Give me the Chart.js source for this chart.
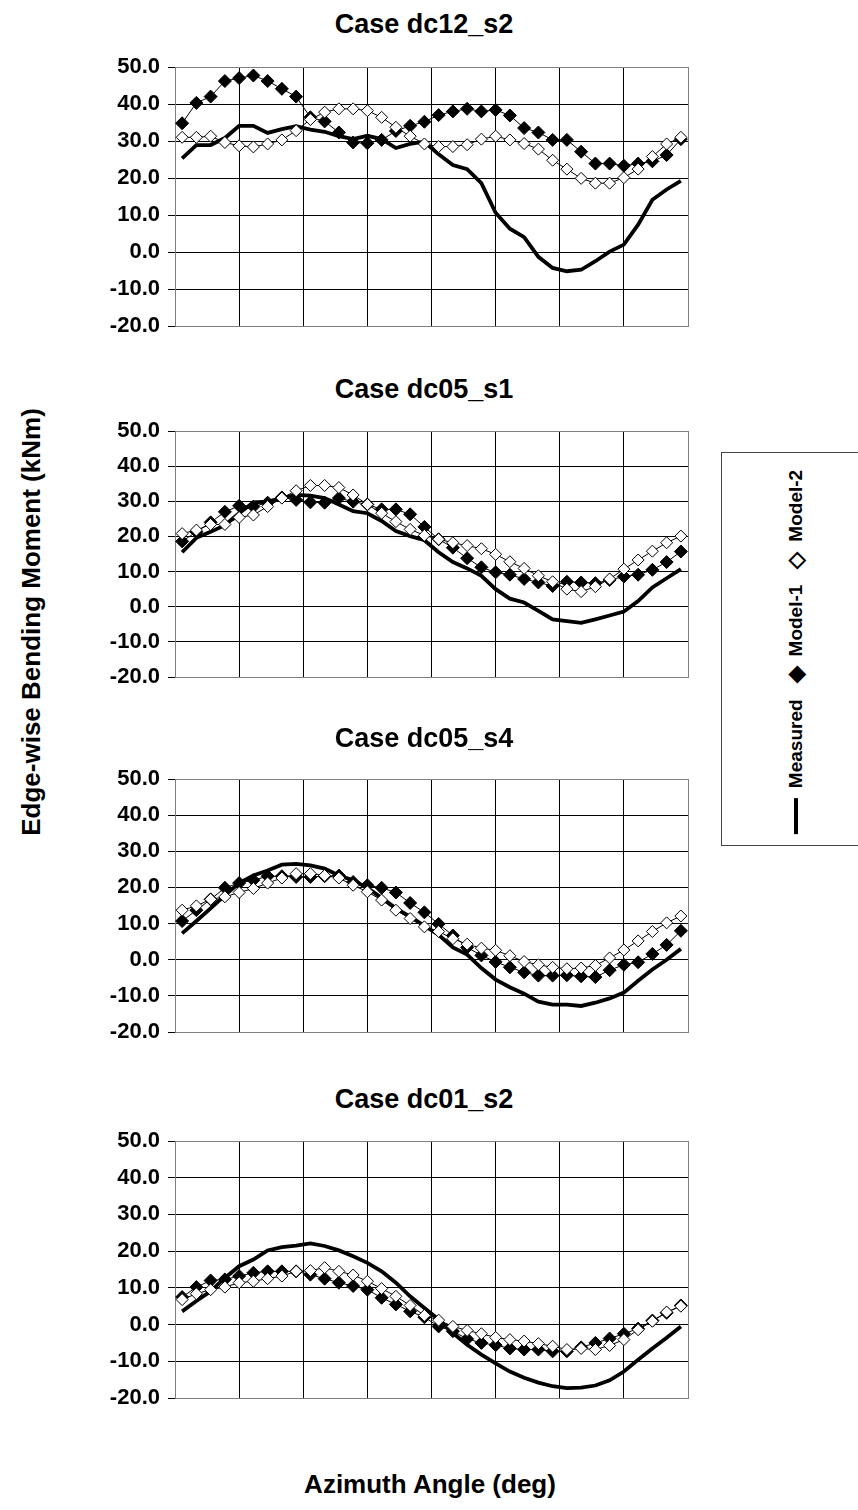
<!DOCTYPE html>
<html>
<head>
<meta charset="utf-8">
<script src="https://cdn.jsdelivr.net/npm/chart.js@4.4.1/dist/chart.umd.min.js"></script>
<style>
  body { margin: 0; background: #fff; width: 858px; height: 1510px; position: relative; overflow: hidden;
         font-family: 'Liberation Sans', Arial, sans-serif; }
  canvas { position: absolute; }
  .ptitle { position: absolute; transform: translate(-50%, -50%); font-weight: bold; font-size: 27px; white-space: nowrap; }
  .ytitle { position: absolute; left: 31px; top: 622px; transform: translate(-50%, -50%) rotate(-90deg);
            font-weight: bold; font-size: 26px; white-space: nowrap; }
  .xtitle { position: absolute; left: 430px; top: 1484px; transform: translate(-50%, -50%);
            font-weight: bold; font-size: 26px; white-space: nowrap; }
  .legend { position: absolute; left: 721px; top: 452px; width: 160px; height: 394px;
            border: 1px solid #444; box-sizing: border-box; }
  .legend .row { position: absolute; left: 74px; top: 199px; transform: translate(-50%, -50%) rotate(-90deg);
                 white-space: nowrap; font-weight: bold; font-size: 19px; display: flex; align-items: center; }
  .legend .item { display: flex; align-items: center; margin: 0 8px; }
  .legend .line { display: inline-block; width: 36px; height: 4px; background: #000; margin-right: 10px; }
  .legend .sym { font-size: 22px; margin-right: 10px; line-height: 18px; }
</style>
</head>
<body>
<canvas id="c0"></canvas>
<canvas id="c1"></canvas>
<canvas id="c2"></canvas>
<canvas id="c3"></canvas>
<div class="ytitle">Edge-wise Bending Moment (kNm)</div>
<div class="xtitle">Azimuth Angle (deg)</div>
<div class="legend">
  <div class="row">
    <span class="item"><span class="line"></span>Measured</span>
    <span class="item"><span class="sym">&#9670;</span>Model-1</span>
    <span class="item"><span class="sym">&#9671;</span>Model-2</span>
  </div>
</div>
<script>
// azimuth positions of the samples (deg)
const angles = [5, 15, 25, 35, 45, 55, 65, 75, 85, 95, 105, 115, 125, 135, 145, 155, 165, 175,
                185, 195, 205, 215, 225, 235, 245, 255, 265, 275, 285, 295, 305, 315, 325, 335, 345, 355];
const seriesNames = ['Measured', 'Model-1', 'Model-2'];
const caseTitles = ['Case dc12_s2', 'Case dc05_s1', 'Case dc05_s4', 'Case dc01_s2'];

// Case dc12_s2
const measured_dc12 = [25.3, 28.9, 28.9, 30.8, 34.1, 34.1, 32.2, 33.2, 34.0, 33.1, 32.5, 31.3, 30.5, 31.4, 30.5, 28.1, 29.2, 29.8,
                       26.4, 23.5, 22.4, 18.6, 10.6, 6.3, 4.0, -1.3, -4.3, -5.2, -4.8, -2.5, 0.1, 2.0, 7.4, 14.1, 16.9, 19.2];
const model1_dc12 = [34.8, 40.3, 42.0, 46.2, 47.0, 47.7, 46.2, 44.1, 42.0, 36.4, 35.3, 32.3, 29.6, 29.4, 30.3, 32.7, 34.1, 35.2,
                     37.0, 38.0, 38.7, 38.0, 38.4, 36.9, 33.5, 32.3, 30.3, 30.3, 27.1, 23.9, 23.9, 23.3, 23.9, 24.5, 26.2, 30.5];
const model2_dc12 = [31.0, 31.0, 31.3, 29.6, 28.7, 28.4, 29.2, 30.3, 32.8, 35.8, 37.8, 38.7, 38.7, 38.2, 36.4, 33.7, 31.3, 29.2,
                     28.5, 28.5, 29.0, 30.5, 31.3, 30.3, 29.3, 27.8, 24.8, 22.4, 19.9, 18.6, 18.6, 20.1, 22.4, 25.8, 29.2, 31.0];

// Case dc05_s1
const measured_dc05s1 = [15.5, 19.6, 21.3, 23.2, 26.6, 29.7, 29.9, 30.9, 31.8, 31.6, 30.9, 29.1, 27.2, 26.6, 24.4, 21.5, 20.1, 18.9,
                         15.5, 12.7, 10.9, 8.8, 5.0, 2.3, 1.2, -1.2, -3.6, -4.1, -4.6, -3.6, -2.5, -1.4, 1.6, 5.5, 8.1, 10.7];
const model1_dc05s1 = [18.6, 21.3, 24.0, 27.0, 28.7, 28.5, 29.6, 31.1, 30.4, 29.7, 29.6, 30.9, 29.9, 29.1, 27.7, 27.7, 26.3, 22.7,
                       19.2, 16.8, 13.8, 11.2, 9.8, 9.1, 7.9, 6.9, 5.9, 7.1, 6.9, 6.7, 7.6, 8.6, 9.1, 10.5, 12.7, 15.7];
const model2_dc05s1 = [20.8, 21.8, 23.4, 23.4, 25.4, 26.1, 28.5, 30.9, 33.0, 34.5, 34.5, 33.9, 31.8, 29.1, 26.6, 24.2, 22.0, 20.3,
                       19.2, 18.2, 17.4, 16.5, 14.9, 12.8, 10.9, 8.8, 7.1, 5.0, 4.3, 5.7, 7.9, 10.7, 13.3, 15.8, 18.2, 20.1];

// Case dc05_s4
const measured_dc05s4 = [7.3, 10.7, 14.2, 17.8, 21.2, 23.3, 24.7, 26.3, 26.5, 26.1, 25.2, 23.3, 22.0, 19.9, 17.1, 14.2, 11.9, 9.4,
                         6.9, 3.4, 1.4, -2.3, -5.5, -7.6, -9.4, -11.6, -12.4, -12.4, -12.8, -11.9, -10.7, -9.1, -5.8, -2.7, 0.0, 3.0];
const model1_dc05s4 = [10.7, 13.7, 16.7, 19.9, 21.2, 22.0, 23.1, 23.1, 22.9, 22.9, 23.1, 23.3, 21.5, 20.6, 19.9, 18.6, 15.7, 13.1,
                       9.9, 6.7, 3.4, 1.2, -0.6, -2.1, -3.5, -4.4, -4.4, -4.3, -4.6, -4.8, -2.9, -1.4, -0.7, 1.6, 4.1, 8.0];
const model2_dc05s4 = [13.7, 14.9, 16.7, 17.4, 18.6, 19.7, 21.2, 22.6, 23.8, 23.8, 23.3, 22.6, 20.6, 18.8, 16.5, 13.7, 11.4, 9.1,
                       7.8, 5.8, 4.3, 3.2, 2.6, 1.1, -0.5, -1.4, -2.1, -2.5, -2.3, -1.6, 0.5, 2.7, 5.2, 7.8, 10.2, 12.1];

// Case dc01_s2
const measured_dc01 = [3.6, 6.4, 9.1, 12.7, 15.9, 17.7, 20.2, 21.1, 21.5, 22.1, 21.4, 20.2, 18.6, 16.8, 14.5, 11.4, 7.7, 4.5,
                       1.4, -2.3, -5.5, -8.2, -10.6, -12.8, -14.5, -15.8, -16.8, -17.3, -17.2, -16.6, -15.2, -12.8, -9.6, -6.5, -3.6, -0.5];
const model1_dc01 = [7.5, 10.2, 12.0, 12.3, 13.2, 14.1, 14.5, 14.5, 14.5, 13.6, 12.5, 11.4, 10.5, 9.5, 7.3, 5.5, 3.6, 2.0,
                     -0.5, -1.8, -3.9, -5.0, -5.6, -6.5, -6.8, -6.8, -7.3, -7.3, -6.2, -5.0, -3.8, -2.5, -1.1, 1.1, 3.2, 5.2];
const model2_dc01 = [6.8, 8.4, 9.5, 10.2, 11.4, 11.8, 12.5, 13.2, 14.5, 14.7, 15.5, 14.5, 13.5, 11.8, 9.8, 7.7, 5.2, 2.5,
                     1.2, -0.5, -1.6, -2.5, -3.5, -4.1, -4.5, -5.2, -5.9, -6.8, -6.5, -6.8, -5.7, -4.1, -1.4, 0.9, 3.4, 5.0];

const yTicks = [-20, -10, 0, 10, 20, 30, 40, 50];

const caseData = [
  [measured_dc12, model1_dc12, model2_dc12],
  [measured_dc05s1, model1_dc05s1, model2_dc05s1],
  [measured_dc05s4, model1_dc05s4, model2_dc05s4],
  [measured_dc01, model1_dc01, model2_dc01]
];

// panel geometry: title centre y, plot top, plot bottom
const panels = [
  { title: 24, top: 67, bottom: 326 },
  { title: 389, top: 431, bottom: 677 },
  { title: 738, top: 779, bottom: 1032 },
  { title: 1099, top: 1141, bottom: 1398 }
];

const FONT = "'Liberation Sans', Arial, sans-serif";
const plotLeft = 175, plotRight = 688;
const canvasLeft = 85;
const titleX = 424;
const PAD = 26;

function pts(vals) {
  return vals.map((v, i) => ({ x: angles[i], y: v }));
}

function makePanel(idx) {
  const p = panels[idx];
  const [meas, m1, m2] = caseData[idx];
  const canvasTop = p.top - PAD;
  const height = p.bottom - canvasTop + PAD;
  const width = plotRight + 10 - canvasLeft;

  const t = document.createElement('div');
  t.className = 'ptitle';
  t.textContent = caseTitles[idx];
  t.style.left = titleX + 'px';
  t.style.top = p.title + 'px';
  document.body.appendChild(t);

  const cv = document.getElementById('c' + idx);
  cv.width = width;
  cv.height = height;
  cv.style.left = canvasLeft + 'px';
  cv.style.top = canvasTop + 'px';
  cv.style.width = width + 'px';
  cv.style.height = height + 'px';

  const gridColor = (max, ctx) => (ctx.tick && ctx.tick.value === max ? '#808080' : '#000');

  new Chart(cv, {
    type: 'line',
    data: {
      datasets: [
        {
          label: seriesNames[0],
          data: pts(meas),
          borderColor: '#000',
          borderWidth: 3.8,
          pointRadius: 0,
          tension: 0,
          order: 3
        },
        {
          label: seriesNames[1],
          data: pts(m1),
          borderColor: '#000',
          borderWidth: 1,
          pointStyle: 'rectRot',
          pointRadius: 6.5,
          pointBackgroundColor: '#000',
          pointBorderColor: '#000',
          pointBorderWidth: 1,
          tension: 0,
          order: 2
        },
        {
          label: seriesNames[2],
          data: pts(m2),
          borderColor: '#000',
          borderWidth: 1,
          pointStyle: 'rectRot',
          pointRadius: 6,
          pointBackgroundColor: '#fff',
          pointBorderColor: '#000',
          pointBorderWidth: 1,
          tension: 0,
          order: 1
        }
      ]
    },
    options: {
      responsive: false,
      animation: false,
      devicePixelRatio: 1,
      layout: { padding: { top: PAD, left: 0, right: 10, bottom: PAD } },
      plugins: {
        legend: { display: false },
        tooltip: { enabled: false },
        title: { display: false }
      },
      scales: {
        x: {
          type: 'linear',
          min: 0,
          max: 360,
          ticks: { stepSize: 45, display: false },
          grid: { color: (ctx) => gridColor(360, ctx), drawTicks: false, lineWidth: 1 },
          border: { color: '#808080', width: 1 }
        },
        y: {
          min: yTicks[0],
          max: yTicks[yTicks.length - 1],
          afterBuildTicks: (s) => { s.ticks = yTicks.map(v => ({ value: v })); },
          afterFit: (s) => { s.width = plotLeft - canvasLeft; },
          ticks: {
            color: '#000',
            padding: 8,
            font: { family: FONT, size: 22, weight: 'bold' },
            callback: (v) => v.toFixed(1)
          },
          grid: { color: (ctx) => gridColor(50, ctx), tickColor: '#000', tickLength: 7, lineWidth: 1 },
          border: { color: '#808080', width: 1 }
        }
      }
    }
  });
}

for (let i = 0; i < panels.length; i++) makePanel(i);
</script>
</body>
</html>
